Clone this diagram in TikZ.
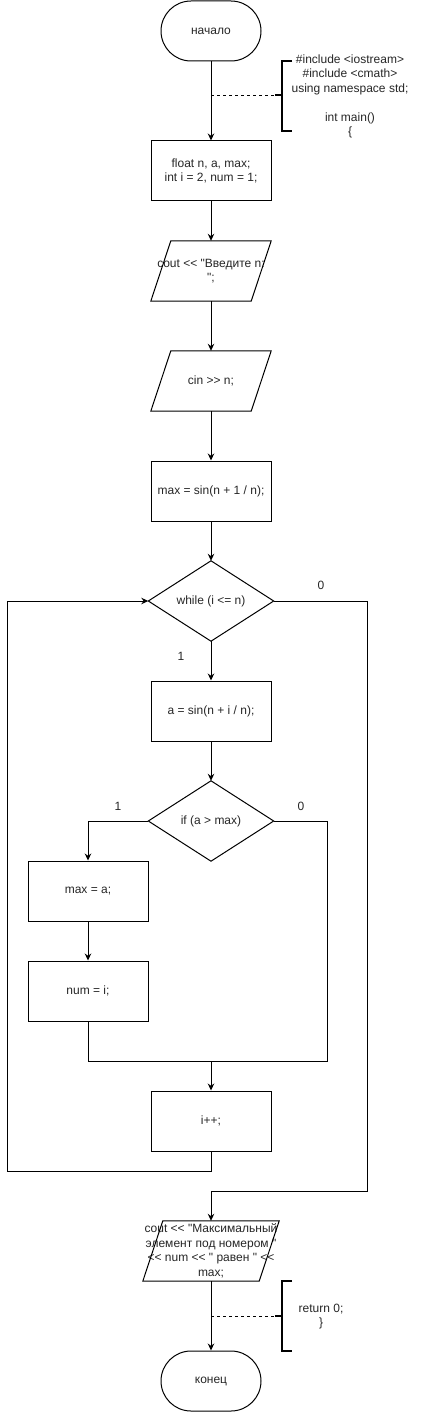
\documentclass[tikz,border=0pt]{standalone}
\usepackage{fontspec}
\setmainfont{Liberation Sans}[Ligatures=TeXOff]
\usetikzlibrary{arrows.meta}
\begin{document}
\begin{tikzpicture}[x=1pt,y=-1pt,
  every node/.style={font=\fontsize{12}{14.5}\selectfont, text=black!85, inner sep=0pt, align=center},
  ln/.style={line width=1pt, draw=black},
  brk/.style={line width=1.8pt, draw=black},
  proc/.style={draw, line width=1pt, minimum width=120pt, minimum height=60pt},
  term/.style={draw, line width=1pt, minimum width=100pt, minimum height=60pt, rounded corners=30pt},
  iobox/.style={minimum width=120pt, minimum height=60pt},
  decbox/.style={minimum width=125pt, minimum height=80pt},
  arr/.style={ln, -{Stealth[length=7pt,width=6.5pt]}},
  dsh/.style={line width=0.8pt, dash pattern=on 3pt off 3pt},
  lbl/.style={font=\fontsize{12}{14}\selectfont}
]
\useasboundingbox (0,0) rectangle (432,1412);

% nodes
\node[term] (start) at (211,31) {начало};
\node[proc] (box1) at (211,171) {float n, a, max;\\int i = 2, num = 1;};
\node[iobox] (in1) at (211,271) {cout << "Введите n:\\";};
\node[iobox] (in2) at (211,381) {cin >> n;};
\node[proc] (box2) at (211,491) {max = sin(n + 1 / n);};
\node[decbox] (wh) at (211,601) {while (i <= n)};
\node[proc] (boxa) at (211,711) {a = sin(n + i / n);};
\node[decbox] (iff) at (211,821) {if (a > max)};
\node[proc] (maxa) at (88,891) {max = a;};
\node[proc] (numi) at (88,991) {num = i;};
\node[proc] (inc) at (211,1121) {i++;};
\node[iobox, minimum width=136pt] (out) at (211,1251) {cout << "Максимальный\\элемент под номером "\\<< num << " равен " <<\\max;};
\node[term] (fin) at (211,1381) {конец};

% shapes drawn manually
\draw[ln] ([xshift=20pt]in1.north west) -- (in1.north east) -- ([xshift=-20pt]in1.south east) -- (in1.south west) -- cycle;
\draw[ln] ([xshift=20pt]in2.north west) -- (in2.north east) -- ([xshift=-20pt]in2.south east) -- (in2.south west) -- cycle;
\draw[ln] ([xshift=20pt]out.north west) -- (out.north east) -- ([xshift=-20pt]out.south east) -- (out.south west) -- cycle;
\draw[ln] (wh.north) -- (wh.east) -- (wh.south) -- (wh.west) -- cycle;
\draw[ln] (iff.north) -- (iff.east) -- (iff.south) -- (iff.west) -- cycle;

% coordinates
\coordinate (loopL) at (7,1171);
\coordinate (exitR) at (367,1191);
\coordinate (mergeR) at (327,1061);
\coordinate (merge) at (211,1061);
\coordinate (a1) at (211,95);
\coordinate (b1) at (275,95);
\coordinate (a2) at (211,1316);
\coordinate (b2) at (275,1316);

% connectors
\draw[arr] (start) -- (box1);
\draw[arr] (box1) -- (in1);
\draw[arr] (in1) -- (in2);
\draw[arr] (in2) -- (box2);
\draw[arr] (box2) -- (wh.north);
\draw[arr] (wh.south) -- (boxa);
\draw[arr] (boxa) -- (iff.north);
\draw[arr] (iff.west) -| (maxa.north);
\draw[arr] (maxa) -- (numi);
\draw[ln] (numi.south) |- (mergeR) |- (iff.east);
\draw[arr] (merge) -- (inc);
\draw[arr] (inc.south) |- (loopL) |- (wh.west);
\draw[arr] (wh.east) -| (exitR) -| (out.north);
\draw[arr] (out) -- (fin);

% branch labels
\node[lbl] (l0a) at (321,585) {0};
\node[lbl] (l1a) at (181,656) {1};
\node[lbl] (l1b) at (118,806) {1};
\node[lbl] (l0b) at (301,806) {0};

% annotations
\draw[dsh] (a1) -- (b1);
\draw[brk] (b1) -- (282,95);
\draw[brk] (292,61) -- (282,61) -- (282,131) -- (292,131);
\node (ann1) at (350,96.5) {\#include <iostream>\\\#include <cmath>\\using namespace std;\\[14.5pt]int main()\\\{};

\draw[dsh] (a2) -- (b2);
\draw[brk] (b2) -- (282,1316);
\draw[brk] (292,1281) -- (282,1281) -- (282,1351) -- (292,1351);
\node (ann2) at (321,1316.5) {return 0;\\\}};
\end{tikzpicture}
\end{document}
